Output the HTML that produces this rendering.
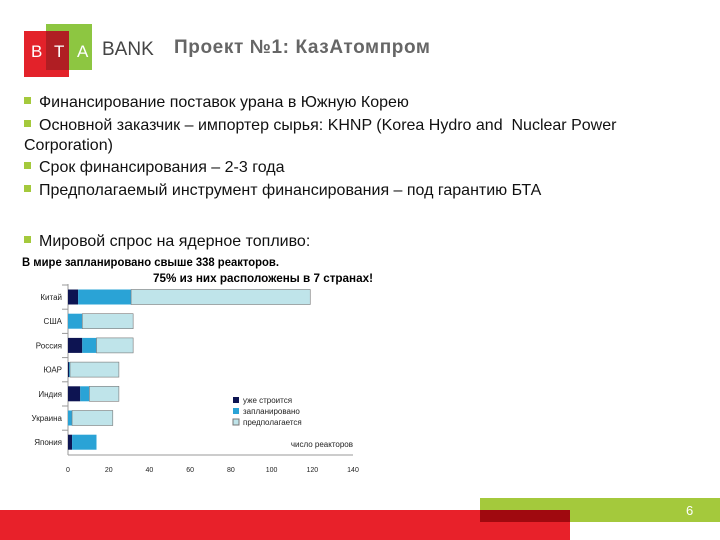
<!DOCTYPE html>
<html><head><meta charset="utf-8"><style>
body{margin:0;width:720px;height:540px;position:relative;overflow:hidden;background:#fff;font-family:"Liberation Sans",sans-serif}
.a{position:absolute}
.b{position:absolute;left:24px;font-size:16px;color:#111;white-space:nowrap}
.b i{display:inline-block;width:7px;height:7px;background:#a4c93c;margin-right:8px;vertical-align:3px}
</style></head><body>
<div class="a" style="left:24px;top:31px;width:45px;height:46px;background:#e3222a"></div>
<div class="a" style="left:46px;top:24px;width:46px;height:46px;background:#8dc641"></div>
<div class="a" style="left:46px;top:31px;width:23px;height:39px;background:#b01e23"></div>
<div class="a" style="left:24px;top:42px;width:68px;font-size:17px;color:#fff"><span style="position:absolute;left:7px">B</span><span style="position:absolute;left:30px">T</span><span style="position:absolute;left:53px">A</span></div>
<div class="a" style="left:102px;top:39px;font-size:19px;color:#444">BANK</div>
<div class="a" style="left:174px;top:37px;font-size:19px;letter-spacing:0.6px;font-weight:bold;color:#666">Проект №1: КазАтомпром</div>
<div class="b" style="top:94px"><i></i>Финансирование поставок урана в Южную Корею</div>
<div class="b" style="top:117px"><i></i>Основной заказчик – импортер сырья: KHNP (Korea Hydro and&nbsp; Nuclear Power</div>
<div class="b" style="top:137px">Corporation)</div>
<div class="b" style="top:159px"><i></i>Срок финансирования – 2-3 года</div>
<div class="b" style="top:182px"><i></i>Предполагаемый инструмент финансирования – под гарантию БТА</div>
<div class="b" style="top:233px"><i></i>Мировой спрос на ядерное топливо:</div>
<svg class="a" style="left:0;top:0" width="720" height="540" id="ch">
<text x="22" y="266" font-size="12" font-weight="bold" textLength="257" lengthAdjust="spacingAndGlyphs" font-family="Liberation Sans,sans-serif">В мире запланировано свыше 338 реакторов.</text>
<text x="153" y="282" font-size="12" font-weight="bold" textLength="220" lengthAdjust="spacingAndGlyphs" font-family="Liberation Sans,sans-serif">75% из них расположены в 7 странах!</text>
</svg>
<div class="a" style="left:480px;top:498px;width:240px;height:24px;background:#a4c93c"></div>
<div class="a" style="left:0;top:510px;width:570px;height:30px;background:#e8212a"></div>
<div class="a" style="left:480px;top:510px;width:90px;height:12px;background:#a0090f"></div>
<div class="a" style="left:686px;top:503px;font-size:13px;color:#fff">6</div>
<script>
const categories=["Китай","США","Россия","ЮАР","Индия","Украина","Япония"];
const building=[5,0,7,0.5,6,0,2];
const planned=[26,7,7,0.5,4.5,2,12];
const proposed=[88,25,18,24,14.5,20,0];
const ticks=[0,20,40,60,80,100,120,140];
const svg=document.getElementById('ch');const NS='http://www.w3.org/2000/svg';
const x=v=>68+v*(285/140);const yc=i=>297+i*24.2;
function el(t,a,txt){const e=document.createElementNS(NS,t);for(const k in a)e.setAttribute(k,a[k]);if(txt!=null)e.textContent=txt;svg.appendChild(e);return e;}
const ax=el('line',{x1:68,y1:284,x2:68,y2:455,stroke:'#999'});

const bx=el('line',{x1:68,y1:455,x2:353,y2:455,stroke:'#999'});

ticks.forEach(t=>{const e=el('text',{x:x(t),y:472,'font-size':7,'text-anchor':'middle',fill:'#222'},t);
});
const cols=['#0d1452','#2aa3d6','#bfe4ea'];
categories.forEach((c,i)=>{const y=yc(i);
const s=el('line',{x1:62,y1:y-12,x2:68,y2:y-12,stroke:'#999'});
const l=el('text',{x:62,y:y+3,'font-size':8,'text-anchor':'end',fill:'#222'},c);

let acc=0;[building[i],planned[i],proposed[i]].forEach((v,k)=>{
const r=el('rect',{x:x(acc),y:y-7.5,width:x(acc+v)-x(acc),height:15,fill:cols[k],stroke:k==2?'#777':'none','stroke-width':0.6});
acc+=v;});
});
['уже строится','запланировано','предполагается'].forEach((t,k)=>{
const r=el('rect',{x:233,y:397+k*11,width:6,height:6,fill:cols[k],stroke:k==2?'#777':'none'});

const e=el('text',{x:243,y:403+k*11,'font-size':8,fill:'#222'},t);
});
const xt=el('text',{x:353,y:447,'font-size':8,'text-anchor':'end',fill:'#222'},'число реакторов');

</script>
</body></html>
